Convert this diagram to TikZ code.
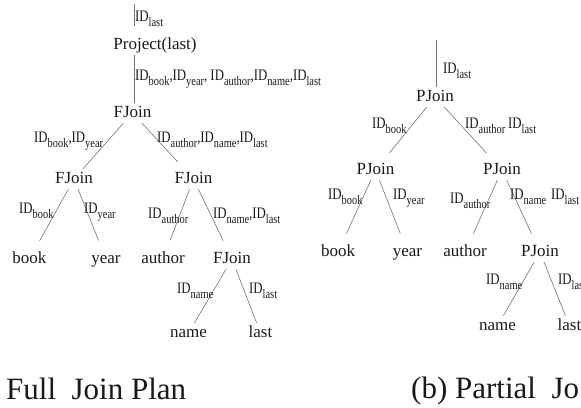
\documentclass[tikz,border=0pt]{standalone}
\usepackage{fontspec}
\setmainfont{Liberation Serif}
\newfontfamily\labfont[FakeStretch=0.8]{Liberation Serif}
\usetikzlibrary{positioning}
\definecolor{TreeText}{RGB}{25,25,25}
\definecolor{TreeLine}{RGB}{115,115,115}
\newcommand{\ID}[1]{ID\raisebox{-5pt}{\fontsize{13}{13}\selectfont #1}}

\begin{document}
\begin{tikzpicture}[
    x=1pt,
    y=-1pt,
    op/.style={
        anchor=base,
        text=TreeText,
        font=\fontsize{17}{17}\selectfont,
        text height=12pt,
        text depth=4pt,
        inner xsep=1pt,
        inner ysep=2pt
    },
    idlab/.style={
        anchor=base west,
        inner sep=0pt,
        text=TreeText,
        font=\labfont\fontsize{16}{16}\selectfont
    },
    caption/.style={
        anchor=base west,
        inner sep=0pt,
        text=TreeText,
        font=\fontsize{31}{31}\selectfont
    },
    link/.style={
        draw=TreeLine,
        line width=0.6pt
    },
    gap/.style={
        shorten >=9pt
    }
]
\useasboundingbox (0,0) rectangle (581,407);
\clip (0,0) rectangle (581,407);

% =========================
% (a) full join plan
% =========================
\coordinate (spineL) at (134,4);
\node[op] (proj) at (155,49) {Project(last)};
\node[op] (fj1)  at (132.5,117) {FJoin};
\node[op] (fj2)  at (74,183) {FJoin};
\node[op] (fj3)  at (193.5,183) {FJoin};
\node[op] (book) at (29.5,263) {book};
\node[op] (year) at (106,263) {year};
\node[op] (author) at (163,263) {author};
\node[op] (fj4)  at (232,263) {FJoin};
\node[op] (name) at (188.5,337) {name};
\node[op] (last) at (260.5,337) {last};

\draw[link,gap] (spineL) -- (spineL |- proj.north);
\draw[link] (spineL |- proj.south) -- (spineL |- fj1.north);
\draw[link] (fj1) -- (fj2);
\draw[link,gap] (fj1) -- (fj3);
\draw[link,gap] (fj2) -- (book);
\draw[link,gap] (fj2) -- (year);
\draw[link,gap] (fj3) -- (author);
\draw[link,gap] (fj3) -- (fj4);
\draw[link] (fj4) -- (name);
\draw[link] (fj4) -- (last);

\node[idlab] (aL0) at (135,21) {\ID{last}};
\node[idlab] (aL1) at (135,80) {\ID{book},\ID{year}, \ID{author},\ID{name},\ID{last}};
\node[idlab] (aL2) at (34,142) {\ID{book},\ID{year}};
\node[idlab] (aL3) at (157,142) {\ID{author},\ID{name},\ID{last}};
\node[idlab] (aL4) at (19,213) {\ID{book}};
\node[idlab] (aL5) at (84,213) {\ID{year}};
\node[idlab] (aL6) at (148,218) {\ID{author}};
\node[idlab] (aL7) at (213,218) {\ID{name},\ID{last}};
\node[idlab] (aL8) at (177,293) {\ID{name}};
\node[idlab] (aL9) at (249,293) {\ID{last}};

\node[caption] (capA) at (6,399) {Full\ \ Join Plan};

% =========================
% (b) partial join plan
% =========================
\coordinate (spineR) at (436,40);
\node[op] (pj1) at (435,101) {PJoin};
\node[op] (pj2) at (375.5,174) {PJoin};
\node[op] (pj3) at (502,174) {PJoin};
\node[op] (bookB) at (338,256) {book};
\node[op] (yearB) at (407.5,256) {year};
\node[op] (authorB) at (465,256) {author};
\node[op] (pj4) at (540,256) {PJoin};
\node[op] (nameB) at (497.5,330) {name};
\node[op] (lastB) at (569.5,330) {last};

\draw[link] (spineR) -- (spineR |- pj1.north);
\draw[link,gap] (pj1) -- (pj2);
\draw[link,gap] (pj1) -- (pj3);
\draw[link,gap] (pj2) -- (bookB);
\draw[link,gap] (pj2) -- (yearB);
\draw[link,gap] (pj3) -- (authorB);
\draw[link,gap] (pj3) -- (pj4);
\draw[link] (pj4) -- (nameB);
\draw[link] (pj4) -- (lastB);

\node[idlab] (bL0) at (443,73) {\ID{last}};
\node[idlab] (bL1) at (372,128) {\ID{book}};
\node[idlab] (bL2) at (465,128) {\ID{author}};
\node[idlab] (bL3) at (508,128) {\ID{last}};
\node[idlab] (bL4) at (328,199) {\ID{book}};
\node[idlab] (bL5) at (393,199) {\ID{year}};
\node[idlab] (bL6) at (450,203) {\ID{author}};
\node[idlab] (bL7) at (510,199) {\ID{name}};
\node[idlab] (bL8) at (551,199) {\ID{last}};
\node[idlab] (bL9) at (486,284) {\ID{name}};
\node[idlab] (bL10) at (558,284) {\ID{last}};

\node[caption] (capB) at (411,398) {(b) Partial\ \ Jo};

\end{tikzpicture}
\end{document}
